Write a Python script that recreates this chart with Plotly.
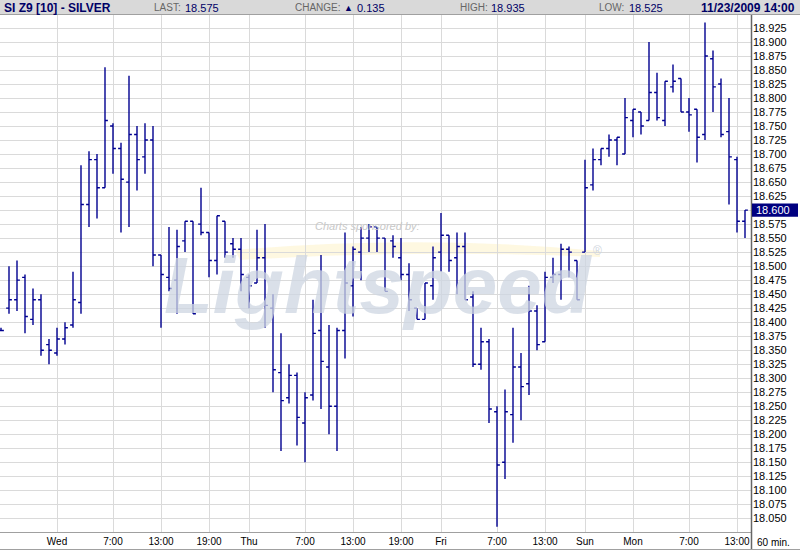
import plotly.graph_objects as go

# ---- data (60-min bars, SI Z9 silver) ----
opens = [18.385, 18.425, 18.440, 18.480, 18.405, 18.440, 18.360, 18.345, 18.370, 18.395,
         18.435, 18.610, 18.690, 18.640, 18.750, 18.710, 18.650, 18.735, 18.695, 18.725,
         18.520, 18.480, 18.475, 18.545, 18.580, 18.575, 18.560, 18.510, 18.580, 18.540,
         18.530, 18.480, 18.470, 18.515, 18.425, 18.310, 18.265, 18.305, 18.220, 18.270,
         18.385, 18.320, 18.250, 18.385, 18.465, 18.525, 18.550, 18.570, 18.550, 18.545,
         18.515, 18.485, 18.425, 18.405, 18.465, 18.525, 18.555, 18.515, 18.535, 18.445,
         18.325, 18.365, 18.240, 18.150, 18.235, 18.320, 18.290, 18.420, 18.365, 18.480,
         18.485, 18.530, 18.510, 18.525, 18.645, 18.690, 18.710, 18.725, 18.700, 18.760,
         18.775, 18.760, 18.810, 18.760, 18.820, 18.835, 18.775, 18.780, 18.735, 18.870,
         18.825, 18.740, 18.690, 18.580]
highs = [18.390, 18.500, 18.510, 18.485, 18.460, 18.450, 18.370, 18.390, 18.400, 18.490,
         18.680, 18.705, 18.700, 18.855, 18.755, 18.720, 18.840, 18.750, 18.755, 18.750,
         18.520, 18.570, 18.565, 18.580, 18.580, 18.640, 18.560, 18.590, 18.580, 18.550,
         18.550, 18.485, 18.565, 18.575, 18.450, 18.380, 18.325, 18.310, 18.275, 18.440,
         18.520, 18.395, 18.390, 18.560, 18.535, 18.570, 18.575, 18.570, 18.550, 18.555,
         18.550, 18.505, 18.425, 18.470, 18.535, 18.595, 18.555, 18.560, 18.560, 18.455,
         18.390, 18.370, 18.250, 18.280, 18.390, 18.345, 18.465, 18.430, 18.490, 18.515,
         18.540, 18.535, 18.510, 18.690, 18.710, 18.710, 18.735, 18.730, 18.800, 18.780,
         18.775, 18.900, 18.845, 18.830, 18.860, 18.835, 18.800, 18.780, 18.935, 18.885,
         18.835, 18.800, 18.695, 18.600]
lows = [18.385, 18.415, 18.420, 18.380, 18.395, 18.340, 18.325, 18.340, 18.360, 18.390,
        18.415, 18.570, 18.585, 18.640, 18.665, 18.560, 18.570, 18.635, 18.665, 18.500,
        18.390, 18.455, 18.415, 18.525, 18.415, 18.555, 18.480, 18.485, 18.515, 18.515,
        18.455, 18.425, 18.470, 18.390, 18.275, 18.170, 18.255, 18.180, 18.150, 18.260,
        18.245, 18.200, 18.170, 18.335, 18.410, 18.475, 18.525, 18.525, 18.455, 18.515,
        18.475, 18.420, 18.405, 18.405, 18.440, 18.490, 18.490, 18.450, 18.440, 18.320,
        18.315, 18.220, 18.035, 18.120, 18.185, 18.225, 18.270, 18.350, 18.365, 18.470,
        18.440, 18.480, 18.440, 18.525, 18.635, 18.680, 18.695, 18.680, 18.700, 18.730,
        18.735, 18.760, 18.760, 18.750, 18.810, 18.775, 18.740, 18.685, 18.725, 18.775,
        18.730, 18.610, 18.560, 18.550]
closes = [18.385, 18.440, 18.475, 18.410, 18.440, 18.350, 18.350, 18.370, 18.390, 18.440,
          18.610, 18.690, 18.640, 18.760, 18.710, 18.655, 18.735, 18.690, 18.725, 18.520,
          18.485, 18.460, 18.535, 18.580, 18.415, 18.560, 18.510, 18.590, 18.525, 18.530,
          18.485, 18.465, 18.515, 18.430, 18.315, 18.260, 18.305, 18.230, 18.265, 18.380,
          18.330, 18.250, 18.385, 18.470, 18.530, 18.550, 18.570, 18.550, 18.455, 18.535,
          18.485, 18.440, 18.405, 18.470, 18.515, 18.555, 18.510, 18.535, 18.440, 18.325,
          18.365, 18.245, 18.145, 18.240, 18.320, 18.285, 18.420, 18.360, 18.480, 18.485,
          18.530, 18.525, 18.440, 18.640, 18.690, 18.710, 18.725, 18.730, 18.765, 18.780,
          18.750, 18.810, 18.765, 18.830, 18.830, 18.775, 18.770, 18.730, 18.875, 18.820,
          18.735, 18.695, 18.580, 18.600]

tick_bar_index = [7, 14, 20, 26, 31, 38, 44, 50, 55, 62, 68, 73, 79, 86, 92]
tick_labels = ["Wed", "7:00", "13:00", "19:00", "Thu", "7:00", "13:00", "19:00",
               "Fri", "7:00", "13:00", "Sun", "Mon", "7:00", "13:00"]

price_tick_labels = ["18.050", "18.075", "18.100", "18.125", "18.150", "18.175", "18.200",
                     "18.225", "18.250", "18.275", "18.300", "18.325", "18.350", "18.375",
                     "18.400", "18.425", "18.450", "18.475", "18.500", "18.525", "18.550",
                     "18.575", "18.600", "18.625", "18.650", "18.675", "18.700", "18.725",
                     "18.750", "18.775", "18.800", "18.825", "18.850", "18.875", "18.900",
                     "18.925"]

title_text = "SI Z9 [10] - SILVER"
last_val = "18.575"
change_val = "0.135"
high_val = "18.935"
low_val = "18.525"
stamp = "11/23/2009 14:00"
current_label = "18.600"
current_value = 18.600

bar_x = list(range(len(opens)))
price_tick_vals = [float(s) for s in price_tick_labels]
# the current price label is drawn in its own highlighted box
price_tick_text = ["" if s == current_label else s for s in price_tick_labels]

# ---- layout geometry ----
W, H = 800, 550
ML, MR, MT, MB = 0, 48, 15, 18
PW = W - ML - MR
PH = H - MT - MB

def pxx(p):
    return (p - ML) / PW

def pxy(p):
    return (H - MB - p) / PH

NAVY = "#000090"
DARK = "#000066"
FONT = "Liberation Sans, Arial"

fig = go.Figure()
fig.add_trace(go.Ohlc(
    x=bar_x, open=opens, high=highs, low=lows, close=closes,
    increasing=dict(line=dict(color=NAVY, width=1.4)),
    decreasing=dict(line=dict(color=NAVY, width=1.4)),
    tickwidth=0.36, hoverinfo="skip", showlegend=False,
))

shapes = []
# header band
shapes.append(dict(type="rect", xref="paper", yref="paper", x0=pxx(0), x1=pxx(800),
                   y0=pxy(14), y1=pxy(-2), fillcolor="#d9d9d9", line=dict(width=0), layer="above"))
shapes.append(dict(type="line", xref="paper", yref="paper", x0=pxx(0), x1=pxx(800),
                   y0=pxy(14.5), y1=pxy(14.5), line=dict(color="#a0a0a0", width=1), layer="above"))
# bottom border line
shapes.append(dict(type="line", xref="paper", yref="paper", x0=pxx(0), x1=pxx(800),
                   y0=pxy(549.5), y1=pxy(549.5), line=dict(color="#a0a0a0", width=1)))
# right axis line extended into bottom band
shapes.append(dict(type="line", xref="paper", yref="paper", x0=pxx(751.5), x1=pxx(751.5),
                   y0=pxy(15), y1=pxy(549), line=dict(color="#666666", width=1.5), layer="above"))
# yellow swoosh of watermark
swoosh = "M {},{} Q {},{} {},{} L {},{} Q {},{} {},{} Z".format(
    pxx(235), pxy(250), pxx(420), pxy(234), pxx(600), pxy(251),
    pxx(600), pxy(257), pxx(420), pxy(249), pxx(240), pxy(260))
shapes.append(dict(type="path", xref="paper", yref="paper", path=swoosh,
                   fillcolor="rgba(253,242,200,0.55)", line=dict(width=0), layer="below"))
# current price box on axis
shapes.append(dict(type="rect", xref="paper", yref="y", x0=pxx(752), x1=pxx(798),
                   y0=current_value - 0.0118, y1=current_value + 0.0118,
                   fillcolor="#000080", line=dict(width=0), layer="above"))

annotations = []
def hdr(x, text, color, size=11, bold=False, anchor="left"):
    annotations.append(dict(xref="paper", yref="paper", x=pxx(x), y=pxy(7.5),
                            xanchor=anchor, yanchor="middle", showarrow=False,
                            text=("<b>%s</b>" % text) if bold else text,
                            font=dict(family=FONT, size=size, color=color)))

hdr(2, title_text, DARK, size=12, bold=True)
hdr(152, "LAST:", "#666666", size=10)
hdr(183, last_val, DARK)
hdr(293, "CHANGE:", "#666666", size=10)
hdr(342, "\u25B2", DARK, size=9)
hdr(355, change_val, DARK)
hdr(458, "HIGH:", "#666666", size=10)
hdr(489, high_val, DARK)
hdr(597, "LOW:", "#666666", size=10)
hdr(627, low_val, DARK)
hdr(797, stamp, DARK, size=12, bold=True, anchor="right")

# watermark
annotations.append(dict(xref="paper", yref="paper", x=pxx(378), y=pxy(285),
                        xanchor="center", yanchor="middle", showarrow=False,
                        text="<b><i>Lightspeed</i></b>",
                        font=dict(family=FONT, size=80, color="rgba(205,213,226,0.75)")))
annotations.append(dict(xref="paper", yref="paper", x=pxx(367), y=pxy(226),
                        xanchor="center", yanchor="middle", showarrow=False,
                        text="<i>Charts sponsored by:</i>",
                        font=dict(family=FONT, size=11, color="#c8c8c8")))
annotations.append(dict(xref="paper", yref="paper", x=pxx(597), y=pxy(251),
                        xanchor="center", yanchor="middle", showarrow=False,
                        text="\u00AE",
                        font=dict(family=FONT, size=12, color="#d0d6e0")))
# current price label
annotations.append(dict(xref="paper", yref="y", x=pxx(754), y=current_value,
                        xanchor="left", yanchor="middle", showarrow=False,
                        text=current_label,
                        font=dict(family=FONT, size=11, color="white")))
# bar size label
annotations.append(dict(xref="paper", yref="paper", x=pxx(773), y=pxy(542),
                        xanchor="center", yanchor="middle", showarrow=False,
                        text="60 min.",
                        font=dict(family=FONT, size=10, color="#000000")))

fig.update_layout(
    width=W, height=H,
    margin=dict(l=ML, r=MR, t=MT, b=MB, pad=0),
    paper_bgcolor="white", plot_bgcolor="white",
    showlegend=False,
    shapes=shapes, annotations=annotations,
    xaxis=dict(
        range=[-0.125, 93.875], rangeslider=dict(visible=False),
        tickmode="array", tickvals=tick_bar_index, ticktext=tick_labels,
        showgrid=True, gridcolor="#dadada", gridwidth=1,
        showline=True, linecolor="#a0a0a0", linewidth=1,
        ticks="", zeroline=False,
        tickfont=dict(family=FONT, size=10, color="#000000"),
        fixedrange=True,
    ),
    yaxis=dict(
        side="right", range=[18.0255, 18.9482],
        tickmode="array", tickvals=price_tick_vals, ticktext=price_tick_text,
        showgrid=True, gridcolor="#dadada", gridwidth=1,
        showline=False, ticks="", zeroline=False,
        tickfont=dict(family=FONT, size=11, color="#000000"),
        fixedrange=True,
    ),
)

fig.write_html(
    "out.html",
    config={"displayModeBar": False, "staticPlot": True},
    post_script="document.body.style.margin='0px';document.body.style.padding='0px';document.body.style.overflow='hidden';",
)
